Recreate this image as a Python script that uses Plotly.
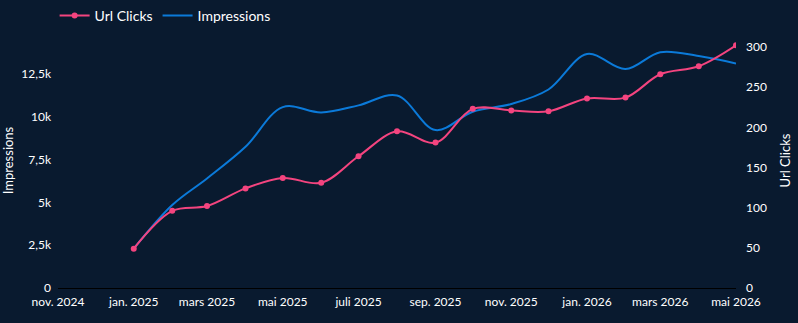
import plotly.graph_objects as go

dates = ["2025-01-01", "2025-02-01", "2025-03-01", "2025-04-01", "2025-05-01", "2025-06-01",
         "2025-07-01", "2025-08-01", "2025-09-01", "2025-10-01", "2025-11-01", "2025-12-01",
         "2026-01-01", "2026-02-01", "2026-03-01", "2026-04-01", "2026-05-01"]
url_clicks = [49, 96, 102, 124, 137, 131, 164, 195, 181, 223, 221, 220, 236, 237, 266, 276, 302]
impressions = [2300, 4850, 6400, 8250, 10570, 10260, 10670, 11250, 9230, 10300, 10750, 11600,
               13670, 12790, 13780, 13550, 13120]

tick_vals = ["2024-11-01", "2025-01-01", "2025-03-01", "2025-05-01", "2025-07-01", "2025-09-01",
             "2025-11-01", "2026-01-01", "2026-03-01", "2026-05-01"]
tick_text = ["nov. 2024", "jan. 2025", "mars 2025", "mai 2025", "juli 2025", "sep. 2025",
             "nov. 2025", "jan. 2026", "mars 2026", "mai 2026"]
left_ticks = [0, 2500, 5000, 7500, 10000, 12500]
left_text = ["0", "2,5k", "5k", "7,5k", "10k", "12,5k"]
right_ticks = [0, 50, 100, 150, 200, 250, 300]

BG = "#091a2f"
PINK = "#f4447f"
BLUE = "#0b7ad9"
FONT = "Lato, 'Open Sans', sans-serif"

fig = go.Figure()
fig.add_trace(go.Scatter(x=dates, y=url_clicks, name="Url Clicks", yaxis="y2",
                         mode="lines+markers", line=dict(color=PINK, width=2, shape="spline"),
                         marker=dict(size=6, color=PINK)))
fig.add_trace(go.Scatter(x=dates, y=impressions, name="Impressions", yaxis="y",
                         mode="lines", line=dict(color=BLUE, width=2, shape="spline")))

fig.update_layout(
    width=798, height=323,
    paper_bgcolor=BG, plot_bgcolor=BG,
    margin=dict(l=58, r=62, t=33, b=35, autoexpand=False),
    font=dict(family=FONT, color="#ffffff", size=12),
    showlegend=True,
    legend=dict(orientation="h", x=-0.005, y=1.0, yref="container", xanchor="left",
                yanchor="top", font=dict(size=14, color="#ffffff"),
                bgcolor="rgba(0,0,0,0)"),
    xaxis=dict(type="date", range=["2024-11-01", "2026-05-01"], tickvals=tick_vals,
               ticktext=tick_text, showgrid=False, zeroline=False, showline=True,
               linecolor="#000000", linewidth=1, ticks="", tickfont=dict(size=12),
               ticklabelstandoff=3),
    yaxis=dict(range=[0, 14900], tickvals=left_ticks, ticktext=left_text, showgrid=False,
               zeroline=False, title=dict(text="Impressions", font=dict(size=13), standoff=8),
               tickfont=dict(size=12), ticklabelstandoff=6),
    yaxis2=dict(range=[0, 317.4], tickvals=right_ticks, overlaying="y", side="right",
                showgrid=False, zeroline=False,
                title=dict(text="Url Clicks", font=dict(size=13), standoff=14),
                tickfont=dict(size=12), ticklabelstandoff=9),
)

fig.write_html("out.html")
